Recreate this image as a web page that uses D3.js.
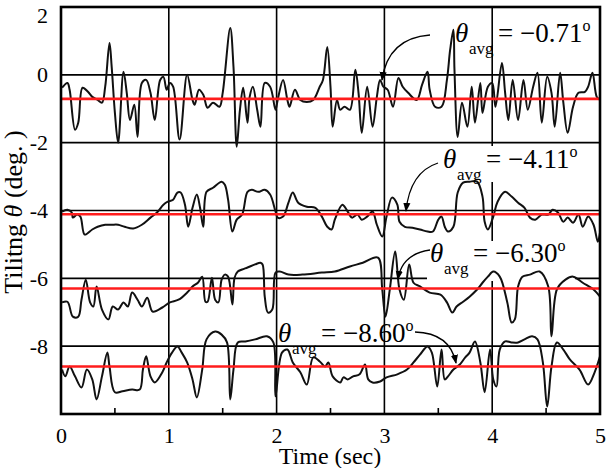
<!DOCTYPE html>
<html><head><meta charset="utf-8">
<script src="https://cdn.jsdelivr.net/npm/d3@7"></script>
<style>body{margin:0;background:#fff}svg{display:block}svg text{font-family:"Liberation Serif","Times New Roman",serif !important;fill:#000}</style>
</head><body><svg id="c" width="610" height="468"></svg>
<script>
// ---- data ----
const xTicks=[0,1,2,3,4,5];
const yTicks=[2,0,-2,-4,-6,-8];
const gridY=[0,-2,-4,-6,-8];
const gridX=[1,2,3,4];
const minorX=[0.5,1.5,2.5,3.5,4.5];
const avgValues=[-0.71,-4.11,-6.30,-8.60];
const avgLabels=["\u22120.71","\u22124.11","\u22126.30","\u22128.60"];

const tiltA=[[0.01,-0.38],[0.06,-0.24],[0.08,-0.44],[0.13,-1.62],[0.16,-1.41],[0.20,-0.38],[0.25,-0.50],[0.29,-0.65],[0.34,-0.74],[0.38,-0.82],[0.41,-0.35],[0.45,0.94],[0.47,0.24],[0.50,-1.12],[0.53,-2.00],[0.58,0.09],[0.61,-0.53],[0.64,-1.33],[0.68,-0.88],[0.71,-1.83],[0.75,-0.24],[0.79,-0.15],[0.83,-0.53],[0.87,-1.33],[0.92,-0.15],[0.95,-0.06],[0.98,-0.44],[1.01,-0.24],[1.04,-0.35],[1.10,-1.91],[1.17,0.00],[1.22,-0.74],[1.24,-0.88],[1.28,-0.44],[1.32,-0.59],[1.36,-0.97],[1.41,-0.82],[1.47,-0.94],[1.50,-0.53],[1.57,1.38],[1.60,0.24],[1.63,-2.12],[1.66,-1.03],[1.69,-0.38],[1.73,-1.41],[1.75,-0.65],[1.78,-0.35],[1.82,-1.03],[1.85,-1.53],[1.89,-0.24],[1.94,-0.35],[1.99,-1.03],[2.01,-0.74],[2.06,-0.15],[2.10,-0.74],[2.12,-0.94],[2.17,-0.44],[2.22,-0.74],[2.28,-0.80],[2.34,-0.74],[2.40,-0.35],[2.43,-0.15],[2.47,0.82],[2.50,-0.35],[2.52,-1.53],[2.56,-0.74],[2.59,-1.03],[2.63,-0.94],[2.68,-1.03],[2.73,0.15],[2.76,-0.53],[2.79,-1.71],[2.84,-0.35],[2.89,-1.53],[2.93,-0.65],[2.96,-0.15],[2.99,-0.35],[3.03,-0.44],[3.08,-0.94],[3.13,-0.09],[3.17,-0.35],[3.22,-0.53],[3.30,-0.74],[3.35,-0.29],[3.40,0.09],[3.42,-0.44],[3.47,-0.94],[3.53,-0.94],[3.58,-0.15],[3.61,0.74],[3.64,1.33],[3.65,0.15],[3.68,-1.83],[3.72,-0.82],[3.77,-1.53],[3.81,-0.35],[3.84,-1.41],[3.89,-0.24],[3.91,-1.12],[3.96,-0.35],[4.00,-0.24],[4.03,-0.94],[4.09,0.35],[4.12,-0.53],[4.15,-1.33],[4.19,-0.15],[4.24,-1.33],[4.29,-0.15],[4.33,-1.03],[4.38,-0.35],[4.42,0.06],[4.46,-1.41],[4.51,-0.06],[4.55,-0.53],[4.58,-1.53],[4.63,0.06],[4.66,-0.82],[4.70,-1.71],[4.75,-0.94],[4.80,-0.53],[4.86,-0.50],[4.89,-0.35],[4.93,0.06],[4.97,-0.65],[5.00,-0.74]];

const tiltB=[[0.01,-4.03],[0.06,-3.98],[0.10,-4.06],[0.11,-4.21],[0.15,-4.12],[0.18,-4.18],[0.22,-4.71],[0.29,-4.56],[0.34,-4.48],[0.41,-4.42],[0.47,-4.42],[0.53,-4.42],[0.59,-4.48],[0.67,-4.53],[0.75,-4.42],[0.83,-4.21],[0.89,-4.06],[0.95,-3.83],[0.99,-3.74],[1.04,-3.68],[1.08,-3.47],[1.11,-3.47],[1.15,-3.83],[1.18,-4.48],[1.22,-3.92],[1.26,-3.53],[1.29,-3.92],[1.32,-4.48],[1.35,-3.45],[1.41,-3.33],[1.49,-3.15],[1.52,-3.24],[1.55,-3.68],[1.59,-4.62],[1.63,-4.27],[1.68,-4.12],[1.73,-3.45],[1.77,-3.39],[1.83,-3.45],[1.89,-3.39],[1.94,-3.53],[1.99,-4.03],[2.01,-4.21],[2.06,-4.18],[2.11,-3.77],[2.15,-3.47],[2.20,-3.77],[2.28,-3.89],[2.36,-3.92],[2.42,-4.18],[2.47,-4.48],[2.51,-4.56],[2.54,-4.27],[2.61,-3.83],[2.65,-3.98],[2.70,-4.21],[2.75,-4.12],[2.79,-4.27],[2.84,-4.18],[2.89,-4.03],[2.93,-4.42],[2.98,-4.77],[3.02,-4.18],[3.07,-3.62],[3.12,-3.83],[3.14,-4.33],[3.19,-4.48],[3.26,-4.51],[3.33,-4.56],[3.40,-4.62],[3.45,-4.62],[3.50,-4.27],[3.53,-4.18],[3.56,-4.48],[3.59,-4.62],[3.64,-4.48],[3.68,-3.47],[3.73,-3.18],[3.79,-3.15],[3.86,-3.15],[3.91,-3.59],[3.93,-4.33],[3.96,-4.56],[4.01,-4.18],[4.05,-3.74],[4.12,-3.45],[4.18,-3.59],[4.24,-3.77],[4.30,-3.92],[4.35,-4.21],[4.40,-4.27],[4.46,-4.12],[4.52,-4.12],[4.56,-3.98],[4.61,-4.06],[4.66,-4.33],[4.70,-4.21],[4.75,-4.36],[4.80,-4.12],[4.84,-4.48],[4.89,-4.18],[4.94,-4.42],[4.98,-4.92],[5.00,-4.65]];

const tiltC=[[0.01,-6.71],[0.06,-6.69],[0.11,-7.13],[0.16,-7.13],[0.19,-6.63],[0.23,-6.04],[0.27,-6.71],[0.30,-6.83],[0.33,-6.24],[0.38,-6.92],[0.44,-7.21],[0.48,-6.83],[0.53,-6.92],[0.58,-6.71],[0.62,-6.83],[0.66,-6.42],[0.71,-6.63],[0.75,-6.83],[0.80,-6.57],[0.85,-6.98],[0.94,-6.86],[1.01,-6.71],[1.09,-6.63],[1.17,-6.42],[1.22,-6.24],[1.27,-6.13],[1.31,-5.95],[1.34,-6.69],[1.36,-6.69],[1.40,-5.98],[1.43,-6.63],[1.46,-6.71],[1.49,-6.04],[1.52,-5.89],[1.55,-5.95],[1.59,-6.77],[1.61,-5.98],[1.64,-5.80],[1.68,-5.74],[1.73,-5.68],[1.80,-5.59],[1.85,-5.54],[1.87,-5.59],[1.89,-6.54],[1.92,-7.01],[1.96,-6.92],[1.99,-5.83],[2.03,-5.80],[2.11,-5.89],[2.24,-5.89],[2.42,-5.83],[2.54,-5.80],[2.68,-5.65],[2.80,-5.54],[2.94,-5.39],[2.98,-6.33],[3.01,-7.13],[3.05,-6.33],[3.10,-5.21],[3.14,-6.33],[3.18,-6.63],[3.23,-5.59],[3.27,-6.13],[3.33,-6.24],[3.42,-6.42],[3.52,-6.48],[3.58,-6.71],[3.63,-7.01],[3.67,-6.83],[3.73,-6.69],[3.79,-6.54],[3.86,-6.33],[3.91,-6.13],[3.96,-5.95],[4.01,-5.80],[4.07,-5.95],[4.14,-6.71],[4.18,-7.30],[4.21,-7.21],[4.24,-6.24],[4.28,-5.95],[4.35,-5.89],[4.44,-5.80],[4.52,-6.24],[4.55,-7.71],[4.60,-6.33],[4.68,-6.04],[4.75,-5.95],[4.84,-6.13],[4.94,-6.33],[5.00,-6.54]];

const tiltD=[[0.01,-8.69],[0.04,-8.89],[0.08,-8.60],[0.13,-8.89],[0.19,-9.22],[0.24,-8.69],[0.29,-8.98],[0.33,-9.57],[0.38,-8.89],[0.43,-8.19],[0.45,-8.60],[0.50,-9.36],[0.57,-9.33],[0.66,-9.28],[0.73,-9.28],[0.76,-8.69],[0.79,-8.30],[0.83,-8.89],[0.87,-9.07],[0.94,-8.77],[0.98,-8.48],[1.03,-8.19],[1.08,-8.01],[1.12,-8.19],[1.17,-8.48],[1.22,-8.98],[1.26,-9.51],[1.31,-8.69],[1.35,-7.80],[1.43,-7.57],[1.49,-7.66],[1.54,-7.89],[1.57,-9.57],[1.60,-8.69],[1.64,-7.89],[1.71,-7.86],[1.80,-7.80],[1.91,-7.71],[1.97,-7.89],[1.99,-9.48],[2.05,-8.19],[2.10,-8.10],[2.15,-8.48],[2.22,-8.77],[2.28,-9.13],[2.34,-8.33],[2.40,-8.45],[2.45,-8.60],[2.48,-8.48],[2.52,-8.89],[2.59,-9.07],[2.62,-8.92],[2.66,-8.98],[2.71,-8.89],[2.77,-8.83],[2.82,-8.54],[2.85,-8.98],[2.89,-9.07],[2.96,-9.04],[3.02,-8.92],[3.12,-8.83],[3.21,-8.69],[3.27,-8.48],[3.33,-8.25],[3.40,-8.01],[3.44,-8.19],[3.49,-9.19],[3.53,-8.10],[3.56,-8.98],[3.59,-8.89],[3.64,-8.69],[3.70,-8.54],[3.75,-8.33],[3.79,-8.19],[3.84,-7.86],[3.89,-8.48],[3.93,-9.36],[3.98,-8.10],[4.01,-8.98],[4.04,-9.19],[4.07,-8.10],[4.12,-7.86],[4.18,-7.89],[4.24,-7.89],[4.30,-7.80],[4.37,-7.71],[4.42,-7.80],[4.47,-8.48],[4.51,-9.78],[4.55,-8.60],[4.60,-7.89],[4.66,-8.10],[4.72,-8.39],[4.81,-8.69],[4.89,-9.13],[4.95,-8.77],[5.00,-8.30]];

const tiltSeries=[tiltA,tiltB,tiltC,tiltD];

// ---- layout ----
const FONT='"Liberation Serif","Times New Roman",serif';
const svg=d3.select("#c");
const x=d3.scaleLinear().domain([0,5]).range([61,600]);
const y=d3.scaleLinear().domain([-10,2]).range([414,7]);
const [X0,X1]=x.range(), [Y1,Y0]=y.range();

svg.append("defs").append("clipPath").attr("id","clip")
  .append("rect").attr("x",X0).attr("y",Y0).attr("width",X1-X0).attr("height",Y1-Y0);
svg.select("defs").append("marker").attr("id","ah").attr("viewBox","0 0 10 10")
  .attr("refX",9).attr("refY",5).attr("markerWidth",9).attr("markerHeight",9)
  .attr("markerUnits","userSpaceOnUse").attr("orient","auto")
  .append("path").attr("d","M0,1 L10,5 L0,9 Z").attr("fill","#000");

// grid
svg.append("g").selectAll("line").data(gridY).join("line")
  .attr("x1",X0).attr("x2",X1).attr("y1",d=>y(d)).attr("y2",d=>y(d))
  .attr("stroke","#000").attr("stroke-width",1.6);
svg.append("g").selectAll("line").data(gridX).join("line")
  .attr("y1",Y0).attr("y2",Y1).attr("x1",d=>x(d)).attr("x2",d=>x(d))
  .attr("stroke","#000").attr("stroke-width",1.6);
svg.append("g").selectAll("line").data(minorX).join("line")
  .attr("y1",Y1).attr("y2",Y1-6).attr("x1",d=>x(d)).attr("x2",d=>x(d))
  .attr("stroke","#000").attr("stroke-width",1.6);

// annotation layout (pixel positions of text + arrow paths)
const ann=[
  {tx:455,ty:42,box:null,arrow:"M430,35 Q388,38 382,80"},
  {tx:443,ty:168,box:[485,146,102,36],arrow:"M438,163 Q410,172 406,211"},
  {tx:430,ty:262,box:[427,241,148,40],arrow:"M430,250 Q402,254 398,279"},
  {tx:278,ty:342,box:null,arrow:"M415,332 Q450,333 456,363"}
];
ann.forEach(a=>{ if(a.box) svg.append("rect").attr("x",a.box[0]).attr("y",a.box[1]).attr("width",a.box[2]).attr("height",a.box[3]).attr("fill","#fff"); });

// traces
const line=d3.line().x(d=>x(d[0])).y(d=>y(d[1])).curve(d3.curveCatmullRom.alpha(0.5));
svg.append("g").attr("clip-path","url(#clip)").selectAll("path").data(tiltSeries).join("path")
  .attr("d",line).attr("fill","none").attr("stroke","#111").attr("stroke-width",2).attr("stroke-linejoin","round");

// average lines
svg.append("g").selectAll("line").data(avgValues).join("line")
  .attr("x1",X0).attr("x2",X1).attr("y1",d=>y(d)).attr("y2",d=>y(d))
  .attr("stroke","#ff1c1c").attr("stroke-width",2.6);

// frame
svg.append("rect").attr("x",X0).attr("y",Y0).attr("width",X1-X0).attr("height",Y1-Y0)
  .attr("fill","none").attr("stroke","#000").attr("stroke-width",2.6);

// axes labels
const gx=svg.append("g").attr("transform",`translate(0,${Y1})`)
  .call(d3.axisBottom(x).tickValues(xTicks).tickSize(0).tickPadding(13).tickFormat(d=>String(d)));
gx.attr("font-family",FONT).attr("font-size",22);
gx.select(".domain").remove();
gx.selectAll("text").style("font-family",FONT).style("font-size","22px").attr("fill","#000");
const gy=svg.append("g").attr("transform",`translate(${X0},0)`)
  .call(d3.axisLeft(y).tickValues(yTicks).tickSize(0).tickPadding(13).tickFormat(d=>String(d)));
gy.attr("font-family",FONT).attr("font-size",22);
gy.select(".domain").remove();
gy.selectAll("text").style("font-family",FONT).style("font-size","22px").attr("fill","#000")
  .filter(d=>d===yTicks[0]).attr("dy","0.72em");

svg.append("text").attr("x",330).attr("y",464).attr("text-anchor","middle").style("font-size","24px").text("Time (sec)");
const yl=svg.append("text").attr("transform","translate(22,212) rotate(-90)").attr("text-anchor","middle").style("font-size","26px");
yl.append("tspan").text("Tilitng ");
yl.append("tspan").attr("font-style","italic").text("\u03B8");
yl.append("tspan").text(" (deg. )");

// annotations
ann.forEach((a,i)=>{
  svg.append("path").attr("d",a.arrow).attr("fill","none").attr("stroke","#000").attr("stroke-width",1.3).attr("marker-end","url(#ah)");
  svg.append("text").attr("x",a.tx).attr("y",a.ty).style("font-size","27px").attr("font-style","italic").text("\u03B8");
  svg.append("text").attr("x",a.tx+14).attr("y",a.ty+12).style("font-size","17px").text("avg");
  const t=svg.append("text").attr("x",a.tx+43).attr("y",a.ty).style("font-size","27px");
  t.append("tspan").text("= "+avgLabels[i]);
  t.append("tspan").style("font-size","16px").attr("dy",-11).text("o");
});
</script></body></html>
